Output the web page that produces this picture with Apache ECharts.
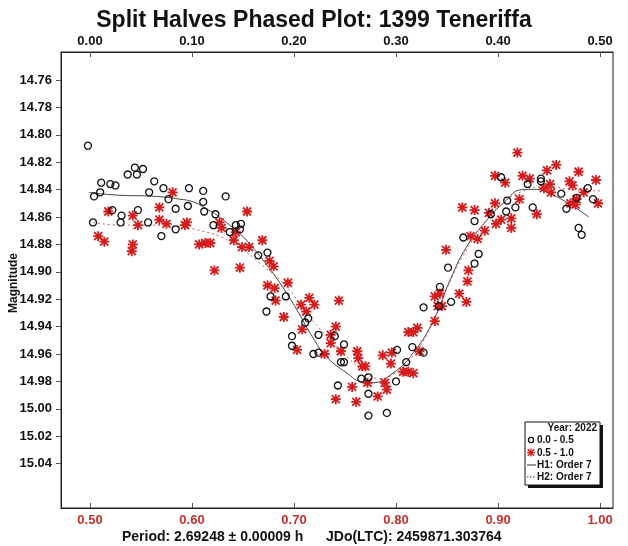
<!DOCTYPE html>
<html>
<head>
<meta charset="utf-8">
<script src="https://cdn.jsdelivr.net/npm/echarts@6/dist/echarts.min.js"></script>
<style>
html,body{margin:0;padding:0;background:#fff;}
#chart{width:628px;height:546px;}
</style>
</head>
<body>
<div id="chart"></div>
<script>
const titleText = 'Split Halves Phased Plot: 1399 Teneriffa';
const yAxisName = 'Magnitude';
const footerPeriod = 'Period: 2.69248 \u00b1 0.00009 h';
const footerJD = 'JDo(LTC): 2459871.303764';
const legendTitle = 'Year: 2022';
const seriesNames = ['0.0 - 0.5', '0.5 - 1.0', 'H1: Order 7', 'H2: Order 7'];

const bottomTicks = [0.5, 0.6, 0.7, 0.8, 0.9, 1.0];
const topTicks = [0.0, 0.1, 0.2, 0.3, 0.4, 0.5];
const magTicks = [14.76, 14.78, 14.80, 14.82, 14.84, 14.86, 14.88, 14.90, 14.92, 14.94, 14.96, 14.98, 15.00, 15.02, 15.04];

const circlePhase = [0.498,0.511,0.520,0.525,0.510,0.504,0.537,0.544,0.552,0.546,0.563,0.558,0.572,0.577,0.597,0.611,0.633,0.611,0.596,0.584,0.547,0.522,0.531,0.503,0.530,0.557,0.612,0.623,0.621,0.584,0.570,0.637,0.643,0.648,0.647,0.665,0.674,0.677,0.692,0.673,0.714,0.711,0.698,0.698,0.724,0.740,0.749,0.719,0.724,0.746,0.749,0.766,0.773,0.743,0.773,0.773,0.791,0.801,0.810,0.800,0.816,0.827,0.827,0.842,0.854,0.843,0.851,0.877,0.881,0.866,0.877,0.893,0.908,0.909,0.917,0.934,0.903,0.929,0.942,0.942,0.962,0.988,0.977,0.993,0.967,0.979,0.982];
const circleMag = [14.808,14.835,14.836,14.837,14.842,14.845,14.829,14.824,14.825,14.829,14.834,14.842,14.839,14.847,14.839,14.841,14.845,14.849,14.852,14.854,14.855,14.855,14.859,14.864,14.864,14.864,14.856,14.858,14.866,14.869,14.874,14.871,14.866,14.865,14.869,14.888,14.886,14.918,14.918,14.929,14.934,14.937,14.947,14.954,14.946,14.947,14.953,14.960,14.959,14.966,14.966,14.978,14.977,14.983,14.989,15.005,15.003,14.957,14.966,14.980,14.955,14.959,14.926,14.925,14.922,14.911,14.897,14.894,14.887,14.875,14.863,14.858,14.856,14.848,14.853,14.853,14.831,14.836,14.832,14.834,14.843,14.839,14.846,14.847,14.854,14.868,14.873];

const starPhase = [0.581,0.568,0.518,0.542,0.568,0.575,0.547,0.595,0.593,0.627,0.629,0.508,0.514,0.542,0.541,0.607,0.613,0.618,0.622,0.654,0.643,0.641,0.649,0.656,0.669,0.647,0.676,0.680,0.674,0.681,0.694,0.682,0.690,0.715,0.707,0.720,0.712,0.744,0.708,0.741,0.736,0.736,0.703,0.730,0.746,0.762,0.763,0.767,0.770,0.772,0.757,0.741,0.761,0.789,0.791,0.782,0.787,0.796,0.795,0.807,0.812,0.817,0.823,0.812,0.817,0.821,0.838,0.838,0.843,0.845,0.841,0.862,0.869,0.870,0.871,0.849,0.865,0.877,0.891,0.873,0.880,0.887,0.898,0.913,0.913,0.903,0.897,0.921,0.938,0.919,0.957,0.897,0.907,0.924,0.931,0.948,0.979,0.996,0.951,0.945,0.952,0.970,0.973,0.984,0.971,0.977,0.976,0.998];
const starMag = [14.842,14.853,14.856,14.859,14.862,14.865,14.866,14.864,14.866,14.864,14.868,14.874,14.878,14.880,14.885,14.880,14.879,14.879,14.899,14.856,14.871,14.877,14.882,14.882,14.877,14.897,14.892,14.896,14.910,14.912,14.908,14.921,14.933,14.919,14.924,14.924,14.929,14.921,14.942,14.940,14.946,14.952,14.957,14.960,14.958,14.958,14.963,14.969,14.969,14.981,14.984,14.993,14.995,14.981,14.986,14.991,14.961,14.959,14.967,14.973,14.973,14.974,14.958,14.944,14.944,14.941,14.936,14.918,14.916,14.925,14.925,14.916,14.922,14.907,14.899,14.884,14.853,14.855,14.857,14.874,14.876,14.870,14.865,14.868,14.861,14.862,14.850,14.847,14.858,14.813,14.822,14.830,14.835,14.830,14.832,14.826,14.827,14.833,14.836,14.839,14.842,14.834,14.837,14.842,14.850,14.847,14.851,14.850];

const h1Phase = [0.499,0.526,0.565,0.588,0.601,0.614,0.627,0.637,0.647,0.667,0.686,0.703,0.716,0.732,0.752,0.765,0.776,0.797,0.817,0.837,0.853,0.869,0.886,0.905,0.925,0.938,0.951,0.971,0.989];
const h1Mag = [14.842,14.844,14.845,14.847,14.849,14.854,14.860,14.866,14.872,14.889,14.908,14.928,14.945,14.962,14.974,14.980,14.981,14.974,14.959,14.935,14.906,14.882,14.865,14.850,14.840,14.840,14.843,14.851,14.860];

const h2Phase = [0.503,0.533,0.556,0.588,0.608,0.627,0.637,0.647,0.667,0.693,0.712,0.732,0.752,0.771,0.784,0.799,0.817,0.836,0.853,0.870,0.885,0.905,0.925,0.950,0.971,1.000];
const h2Mag = [14.864,14.866,14.866,14.867,14.870,14.874,14.878,14.882,14.894,14.911,14.930,14.947,14.962,14.974,14.978,14.974,14.961,14.937,14.907,14.883,14.866,14.850,14.841,14.838,14.840,14.841];

const zip = (a, b) => a.map((v, i) => [v, b[i]]);
const starPath = 'path://M4.1 0H5.9V10H4.1Z M0 4.1H10V5.9H0Z M1.64 0.36L9.64 8.36L8.36 9.64L0.36 1.64Z M8.36 0.36L9.64 1.64L1.64 9.64L0.36 8.36Z';
const FONT = '"Liberation Sans", Arial, sans-serif';
const RED = '#d41c1c';
const LABEL_RED = '#c9302c';

const chart = echarts.init(document.getElementById('chart'), null, {renderer: 'canvas'});

const lx = 525, ly = 422, lw = 75, lh = 63;
const legendFont = {fontFamily: FONT, fontWeight: 'bold', fontSize: 10, fill: '#111'};

function starGlyph(x0, y0, s) {
  const polys = [
    [[4.1,0],[5.9,0],[5.9,10],[4.1,10]],
    [[0,4.1],[10,4.1],[10,5.9],[0,5.9]],
    [[1.64,0.36],[9.64,8.36],[8.36,9.64],[0.36,1.64]],
    [[8.36,0.36],[9.64,1.64],[1.64,9.64],[0.36,8.36]]
  ];
  return polys.map(p => ({
    type: 'polygon', z: 12,
    shape: {points: p.map(([a, b]) => [x0 + a * s / 10, y0 + b * s / 10])},
    style: {fill: RED}
  }));
}

const option = {
  animation: false,
  backgroundColor: '#fff',
  title: {
    text: titleText,
    left: 'center',
    top: 4,
    textStyle: {fontFamily: FONT, fontWeight: 'bold', fontSize: 23, color: '#111'}
  },
  grid: {left: 61, right: 15, top: 52, bottom: 38, containLabel: false, outerBoundsMode: 'none',
    show: true, borderColor: '#222', borderWidth: 1, backgroundColor: '#fff'},
  xAxis: [
    {
      type: 'value', position: 'bottom', min: 0.4716, max: 1.0127,
      splitLine: {show: false},
      axisLine: {show: true, onZero: false, lineStyle: {color: '#222', width: 1}},
      axisTick: {show: true, inside: true, length: 5, customValues: bottomTicks, lineStyle: {color: '#555'}},
      axisLabel: {customValues: bottomTicks, margin: 6, color: LABEL_RED, fontFamily: FONT, fontWeight: 'bold', fontSize: 13,
        formatter: v => v.toFixed(2)}
    },
    {
      type: 'value', position: 'top', min: -0.0284, max: 0.5127,
      splitLine: {show: false},
      axisLine: {show: true, onZero: false, lineStyle: {color: '#222', width: 1}},
      axisTick: {show: true, inside: true, length: 5, customValues: topTicks, lineStyle: {color: '#555'}},
      axisLabel: {customValues: topTicks, margin: 4, color: '#111', fontFamily: FONT, fontWeight: 'bold', fontSize: 13,
        formatter: v => v.toFixed(2)}
    }
  ],
  yAxis: [{
    type: 'value', inverse: true, min: 14.7396, max: 15.0724,
    splitLine: {show: false},
    axisLine: {show: true, onZero: false, lineStyle: {color: '#222', width: 1}},
    axisTick: {show: true, inside: false, length: 5, customValues: magTicks, lineStyle: {color: '#555'}},
    axisLabel: {customValues: magTicks, margin: 9, color: '#111', fontFamily: FONT, fontWeight: 'bold', fontSize: 13,
      formatter: v => v.toFixed(2)}
  }],
  series: [
    {
      name: seriesNames[2], type: 'line', xAxisIndex: 0, yAxisIndex: 0,
      data: zip(h1Phase, h1Mag), smooth: true, showSymbol: false, symbol: 'none',
      lineStyle: {color: '#444', width: 1}, z: 2
    },
    {
      name: seriesNames[3], type: 'line', xAxisIndex: 0, yAxisIndex: 0,
      data: zip(h2Phase, h2Mag), smooth: true, showSymbol: false, symbol: 'none',
      lineStyle: {color: '#c06060', width: 1, type: [2, 3]}, z: 2
    },
    {
      name: seriesNames[1], type: 'scatter', xAxisIndex: 0, yAxisIndex: 0,
      data: zip(starPhase, starMag), symbol: starPath, symbolSize: 10,
      itemStyle: {color: RED, opacity: 1}, z: 3
    },
    {
      name: seriesNames[0], type: 'scatter', xAxisIndex: 0, yAxisIndex: 0,
      data: zip(circlePhase, circleMag), symbol: 'circle', symbolSize: 7,
      itemStyle: {color: 'rgba(0,0,0,0)', borderColor: '#111', borderWidth: 1.3, opacity: 1}, z: 4
    }
  ],
  graphic: [
    {type: 'text', x: 14, y: 283, rotation: Math.PI / 2,
      style: {text: yAxisName, fontFamily: FONT, fontWeight: 'bold', fontSize: 12, fill: '#111', align: 'center', verticalAlign: 'middle'}},
    {type: 'text', x: 122, y: 537, style: {text: footerPeriod, fontFamily: FONT, fontWeight: 'bold', fontSize: 14, fill: '#111', verticalAlign: 'middle'}},
    {type: 'text', x: 326, y: 537, style: {text: footerJD, fontFamily: FONT, fontWeight: 'bold', fontSize: 14, fill: '#111', verticalAlign: 'middle'}},
    {type: 'rect', shape: {x: lx + 3, y: ly + 3, width: lw, height: lh}, style: {fill: '#111'}, z: 10},
    {type: 'rect', shape: {x: lx, y: ly, width: lw, height: lh}, style: {fill: '#fff', stroke: '#111', lineWidth: 1}, z: 11},
    {type: 'text', x: lx + lw - 3, y: ly + 6, style: Object.assign({}, legendFont, {text: legendTitle, align: 'right', verticalAlign: 'middle'}), z: 12},
    {type: 'circle', shape: {cx: lx + 6, cy: ly + 18, r: 2.6}, style: {fill: 'none', stroke: '#111', lineWidth: 1.3}, z: 12},
    {type: 'text', x: lx + 12, y: ly + 18, style: Object.assign({}, legendFont, {text: seriesNames[0], verticalAlign: 'middle'}), z: 12},
    ...starGlyph(lx + 2, ly + 26.5, 8),
    {type: 'text', x: lx + 12, y: ly + 31, style: Object.assign({}, legendFont, {text: seriesNames[1], verticalAlign: 'middle'}), z: 12},
    {type: 'line', shape: {x1: lx + 2, y1: ly + 43, x2: lx + 11, y2: ly + 43}, style: {stroke: '#333', lineWidth: 1}, z: 12},
    {type: 'text', x: lx + 12, y: ly + 43, style: Object.assign({}, legendFont, {text: seriesNames[2], verticalAlign: 'middle'}), z: 12},
    {type: 'line', shape: {x1: lx + 2, y1: ly + 55, x2: lx + 11, y2: ly + 55}, style: {stroke: '#333', lineWidth: 1, lineDash: [1.5, 1.5]}, z: 12},
    {type: 'text', x: lx + 12, y: ly + 55, style: Object.assign({}, legendFont, {text: seriesNames[3], verticalAlign: 'middle'}), z: 12}
  ]
};
chart.setOption(option);
</script>
</body>
</html>
